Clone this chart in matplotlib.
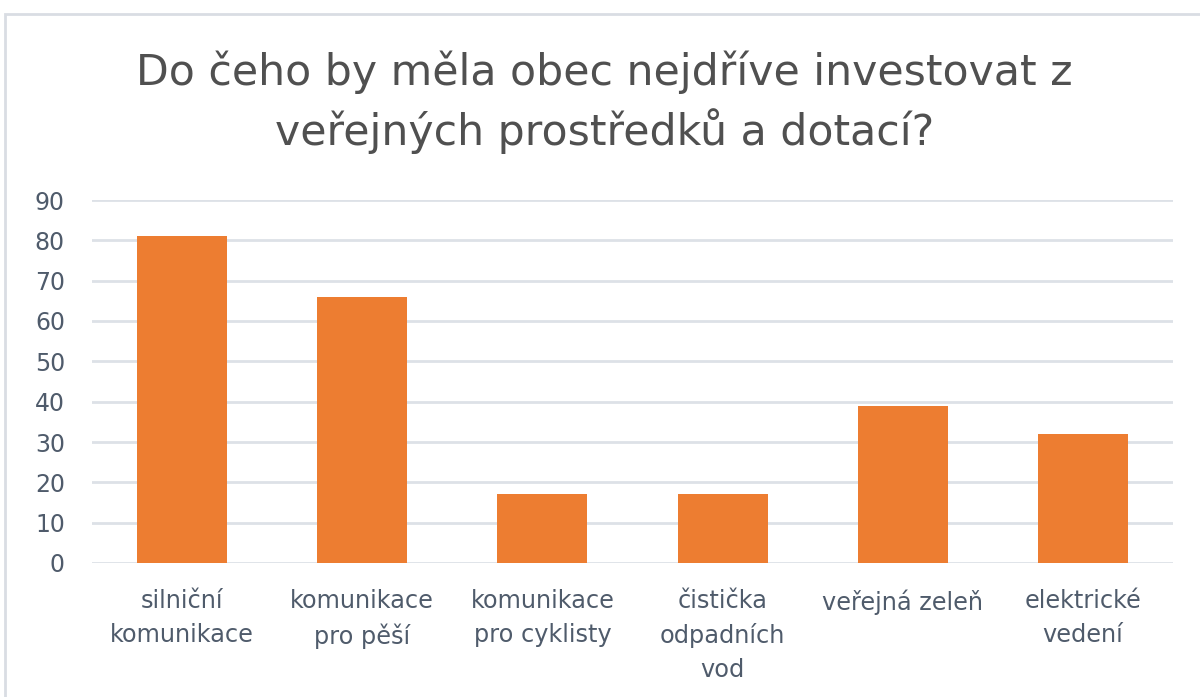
import matplotlib
matplotlib.use("Agg")
import matplotlib.pyplot as plt
from matplotlib.patches import Rectangle

categories = ["silniční\nkomunikace", "komunikace\npro pěší", "komunikace\npro cyklisty",
              "čistička\nodpadních\nvod", "veřejná zeleň", "elektrické\nvedení"]
values = [81, 66, 17, 17, 39, 32]
yticks = [0, 10, 20, 30, 40, 50, 60, 70, 80, 90]
title = "Do čeho by měla obec nejdříve investovat z\nveřejných prostředků a dotací?"

plt.rcParams['font.family'] = ['DejaVu Sans']

fig = plt.figure(figsize=(12, 6.97), dpi=100)
fig.patch.set_facecolor("white")
# outer frame
fig.patches.append(Rectangle((5/1200, -0.1), 1.2, (697-14)/697 + 0.1, transform=fig.transFigure,
                             fill=False, edgecolor="#D9DDE3", linewidth=2))

ax = fig.add_axes([92/1200, 1-563/697, (1173-92)/1200, (563-200)/697])
x = range(len(categories))
ax.bar(x, values, width=0.5, color="#ED7D31", zorder=3)
ax.set_xlim(-0.5, len(categories)-0.5)
ax.set_ylim(0, 90)
ax.set_yticks(yticks)
ax.set_yticklabels([str(t) for t in yticks])
ax.set_xticks(list(x))
ax.set_xticklabels(categories, linespacing=1.5)
ax.grid(axis="y", color="#DDE1E7", linewidth=2, zorder=0)
for s in ax.spines.values():
    s.set_visible(False)
ax.tick_params(axis="y", length=0, labelsize=17, labelcolor="#4F5B6B", pad=19.5)
ax.tick_params(axis="x", length=0, labelsize=17.3, labelcolor="#4F5B6B", pad=19)

fig.text(0.504, 1-102/697, title, ha="center", va="center", fontsize=30.7,
         color="#505050", linespacing=1.38)

fig.savefig("out.png", dpi=100)
